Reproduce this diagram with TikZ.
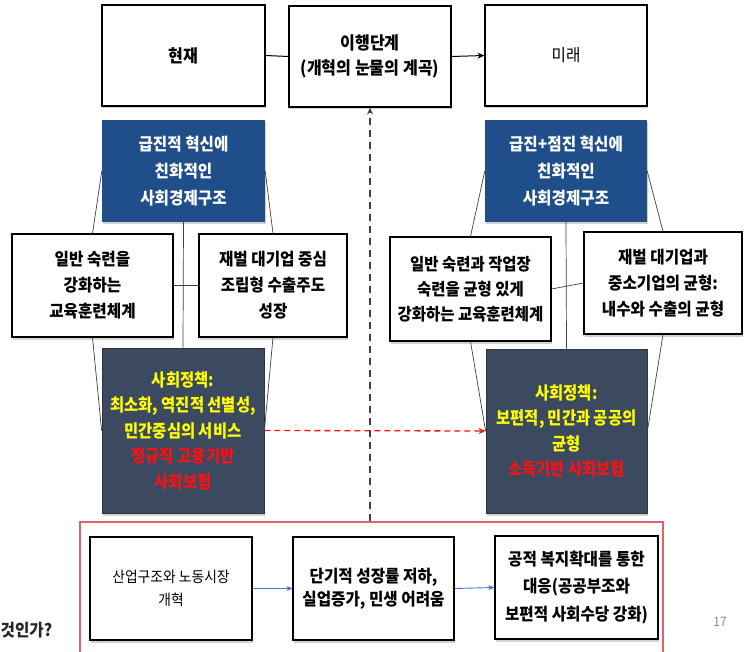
\documentclass[tikz,border=0pt]{standalone}
\usepackage{fontspec}
\setmainfont{Noto Sans CJK KR}[FakeStretch=0.92]
\newfontfamily\cjkcond{Noto Sans CJK KR}[FakeStretch=0.88]
\usetikzlibrary{arrows.meta,shadows}
\definecolor{boxblue}{HTML}{1F4E8A}
\definecolor{slate}{HTML}{3B4A61}
\definecolor{redframe}{HTML}{E4606C}
\definecolor{flowblue}{HTML}{4472C4}
\definecolor{txtred}{HTML}{FF1010}
\definecolor{txtyellow}{HTML}{FFFF00}
\begin{document}
\begin{tikzpicture}[x=1pt,y=-1pt,
  shad/.style={drop shadow={shadow xshift=1pt,shadow yshift=-2.5pt,fill=black,opacity=0.18}},
  sz/.style 2 args={minimum width=#1,minimum height=#2},
  wbox/.style={draw=black,line width=1.1pt,fill=white,align=center,inner sep=1pt,shad,
    font=\fontsize{17}{26}\selectfont\bfseries},
  bbox/.style={fill=boxblue,text=white,align=center,inner sep=1pt,shad,
    font=\fontsize{17}{27}\selectfont\bfseries},
  dbox/.style={fill=slate,draw=black!80,line width=0.8pt,align=center,inner sep=1pt,shad,
    font=\cjkcond\fontsize{17.5}{25.5}\selectfont\bfseries},
  link/.style={draw=black!75,line width=0.7pt},
  flow/.style={draw=flowblue,line width=0.9pt,-{Stealth[length=6pt,width=5pt]}},
  blk/.style={line width=1pt,-{Stealth[length=7pt,width=6pt]}},
  reddash/.style={draw=txtred,line width=1.3pt,dash pattern=on 6pt off 4pt,-{Stealth[length=7pt,width=6pt]}},
  graydash/.style={draw=black!75,line width=1.4pt,dash pattern=on 7pt off 5pt,-{Stealth[length=7pt,width=6pt]}}]
\useasboundingbox (0,0) rectangle (744,652);
\fill[white] (0,0) rectangle (744,652);

% red frame (bottom edge off the page)
\node[draw=redframe,line width=1.2pt,fill=white,sz={583pt}{150pt}] (redbox) at (371.5,597) {};

% top row
\node[wbox,sz={163pt}{101pt},font=\fontsize{17.5}{26}\selectfont\bfseries] (now) at (183.5,55.5) {현재};
\node[wbox,sz={162pt}{101pt},font=\fontsize{17.5}{25}\selectfont\bfseries] (trans) at (370,56.5) {이행단계\\(개혁의 눈물의 계곡)};
\node[wbox,sz={162pt}{101pt},font=\fontsize{17}{26}\selectfont] (future) at (566,55.5) {미래};

% blue boxes
\node[bbox,sz={163pt}{102pt}] (blueL) at (183.5,171) {급진적 혁신에\\친화적인\\사회경제구조};
\node[bbox,sz={162pt}{102pt}] (blueR) at (566,171) {급진+점진 혁신에\\친화적인\\사회경제구조};

% dark boxes
\node[dbox,sz={162pt}{165pt}] (darkL) at (183,430.5)
  {\textcolor{txtyellow}{사회정책:}\\\textcolor{txtyellow}{최소화, 역진적 선별성,}\\\textcolor{txtyellow}{민간중심의 서비스}\\\textcolor{txtred}{정규직 고용기반}\\\textcolor{txtred}{사회보험}};
\node[dbox,sz={161pt}{164pt}] (darkR) at (566.5,431)
  {\textcolor{txtyellow}{사회정책:}\\\textcolor{txtyellow}{보편적, 민간과 공공의}\\\textcolor{txtyellow}{균형}\\\textcolor{txtred}{소득기반 사회보험}};

% middle boxes
\node[wbox,sz={161pt}{103pt}] (midLL) at (92.5,285.5) {일반 숙련을\\강화하는\\교육훈련체계};
\node[wbox,sz={148pt}{103pt}] (midLR) at (273,285.5) {재벌 대기업 중심\\조립형 수출주도\\성장};
\node[wbox,sz={161pt}{104pt},font=\fontsize{16.8}{25}\selectfont\bfseries] (midRL) at (470.5,289) {일반 숙련과 작업장\\숙련을 균형 있게\\강화하는 교육훈련체계};
\node[wbox,sz={158pt}{102pt}] (midRR) at (663,283) {재벌 대기업과\\중소기업의 균형:\\내수와 수출의 균형};

% connectors, left group
\draw[link] (blueL.south) -- (darkL.north);
\draw[link] (midLL.east) -- (midLR.west);
\draw[link] (blueL.west) -- (midLL.north);
\draw[link] (midLL.south) -- (darkL.west);
\draw[link] (blueL.east) -- (midLR.north);
\draw[link] (midLR.south) -- (darkL.east);
% connectors, right group
\draw[link] (blueR.south) -- (darkR.north);
\draw[link] (midRL.east) -- (midRR.west);
\draw[link] (blueR.west) -- (midRL.north);
\draw[link] (midRL.south) -- (darkR.west);
\draw[link] (blueR.east) -- (midRR.north);
\draw[link] (midRR.south) -- (darkR.east);

% top row connectors
\draw[line width=1pt] (now.east) -- (trans.west);
\draw[blk] (trans.east) -- (future.west);

% dashed arrows
\draw[reddash] (darkL.east) -- (darkR.west);
\draw[graydash] (trans.south |- redbox.north) -- (trans.south);

% bottom row
\node[wbox,sz={162pt}{103pt},font=\fontsize{15}{23}\selectfont] (b1) at (171,588.5) {산업구조와 노동시장\\개혁};
\node[wbox,sz={161pt}{103pt},font=\fontsize{17}{23}\selectfont\bfseries] (b2) at (373.5,588.5) {단기적 성장률 저하,\\실업증가, 민생 어려움};
\node[wbox,sz={163pt}{103pt},font=\fontsize{17}{27.5}\selectfont\bfseries] (b3) at (576.5,587.5) {공적 복지확대를 통한\\대응(공공부조와\\보편적 사회수당 강화)};
\draw[flow] (b1.east) -- (b2.west);
\draw[flow] (b2.east) -- (b3.west);

% stray page texts
\node[anchor=west,inner sep=0pt,text=black!85,font=\fontsize{17}{20}\selectfont\bfseries] (cut) at (0.5,630) {것인가?};
\node[inner sep=0pt,text=black!45,font=\fontsize{13}{15}\selectfont] (pnum) at (720,622) {17};
\end{tikzpicture}
\end{document}
